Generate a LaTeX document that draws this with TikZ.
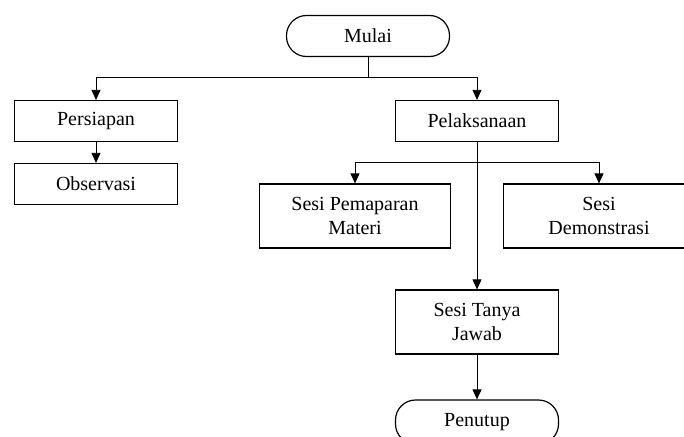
\documentclass[tikz,border=0pt]{standalone}
\usepackage{fontspec}
\setmainfont{Liberation Serif}
\usetikzlibrary{arrows.meta}
\begin{document}
\begin{tikzpicture}[x=1pt,y=-1pt,
  box/.style={draw,line width=1.2pt,minimum width=163pt,minimum height=41pt,align=center,font=\fontsize{20}{24.5}\selectfont,inner sep=0pt},
  tallbox/.style={box,minimum width=191pt,minimum height=64pt},
  term/.style={box,rounded corners=20pt},
  conn/.style={line width=0.8pt},
  arr/.style={conn,-{Triangle[length=10pt,width=9pt]}}]
\useasboundingbox (0,0) rectangle (684,436);
\node[term] (mulai) at (368,36) {Mulai};
\node[box] (persiapan) at (96,121) {Persiapan};
\node[box] (observasi) at (96,184) {Observasi};
\node[box] (pelaksanaan) at (477,121) {Pelaksanaan};
\node[tallbox] (materi) at (355,216) {Sesi Pemaparan\\Materi};
\node[tallbox] (demo) at (599,216) {Sesi\\Demonstrasi};
\node[box,minimum height=64pt] (tanya) at (477,322) {Sesi Tanya\\Jawab};
\node[term,minimum height=44pt] (penutup) at (477,422) {Penutup};
\coordinate (j1) at (368,77);
\coordinate (j2) at (477,162);
\draw[conn] (mulai.south) -- (j1);
\draw[arr] (j1) -| (persiapan.north);
\draw[arr] (j1) -| (pelaksanaan.north);
\draw[arr] (persiapan) -- (observasi);
\draw[arr] (j2) -| (materi.north);
\draw[arr] (j2) -| (demo.north);
\draw[arr] (pelaksanaan) -- (tanya);
\draw[arr] (tanya) -- (penutup);
\end{tikzpicture}
\end{document}
